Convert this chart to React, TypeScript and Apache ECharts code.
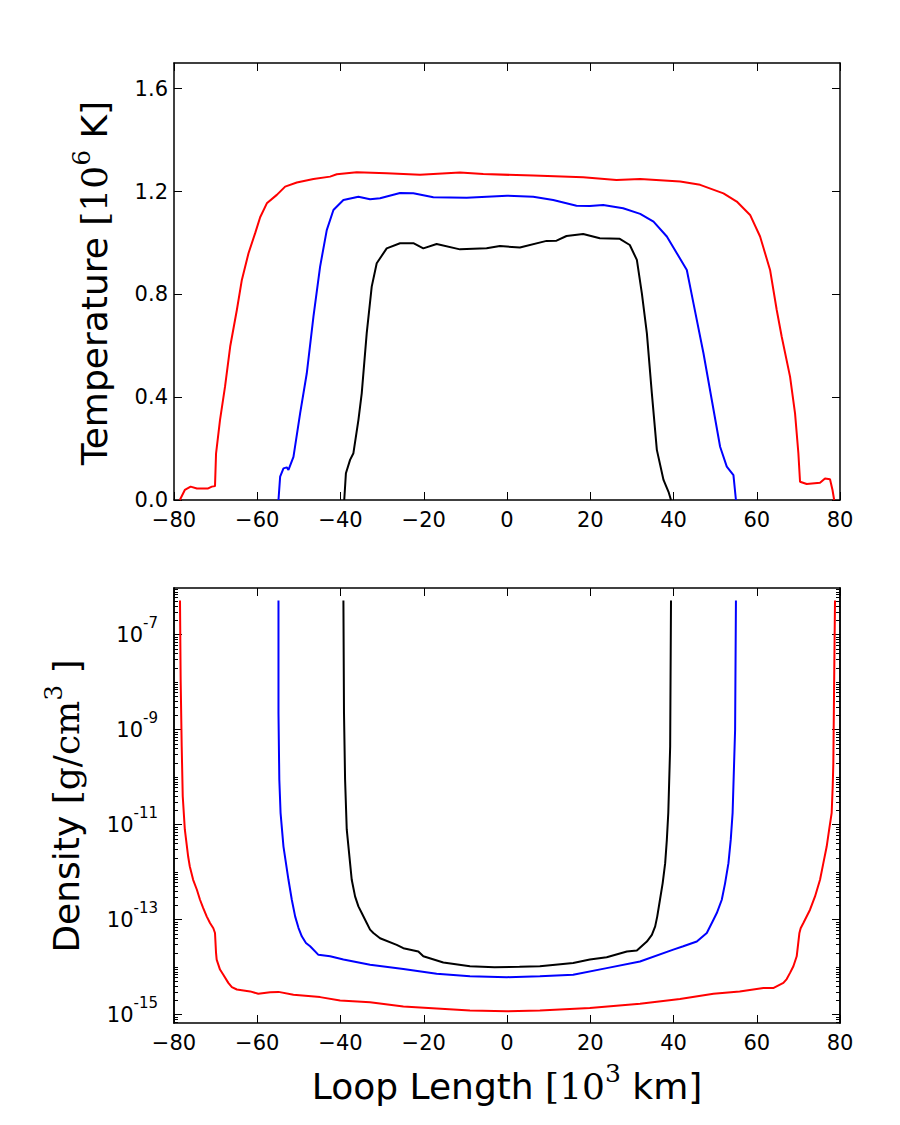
import React, { useEffect, useRef } from "react";
import * as echarts from "echarts";

// ---- Temperature profiles [loop position (10^3 km), T (10^6 K)] ----
const tempRed: [number, number][] = [
  [-78.6, 0], [-77.4, 0.039], [-76.0, 0.052], [-74.5, 0.045], [-71.8, 0.045], [-70.9, 0.052],
  [-70.15, 0.054], [-69.9, 0.18], [-68.95, 0.311], [-67.75, 0.44], [-66.5, 0.597], [-64.9, 0.739],
  [-63.7, 0.856], [-62.1, 0.96], [-60.5, 1.038], [-59.3, 1.1], [-57.7, 1.154], [-55.3, 1.187],
  [-53.3, 1.219], [-50.5, 1.235], [-46.5, 1.249], [-42.5, 1.258], [-40.9, 1.267], [-36.1, 1.275],
  [-28.9, 1.271], [-24.9, 1.268], [-20.9, 1.265], [-11.3, 1.274], [-5.7, 1.268], [6.3, 1.262],
  [18.3, 1.256], [26.3, 1.245], [32, 1.249], [41.6, 1.239], [46.4, 1.226], [52, 1.193],
  [55.2, 1.161], [58.4, 1.109], [60.8, 1.025], [63.2, 0.895], [64.8, 0.739], [66, 0.635],
  [68, 0.48], [69.2, 0.337], [70, 0.182], [70.4, 0.071], [72, 0.062], [75.2, 0.067],
  [76.4, 0.084], [77.6, 0.081], [78.2, 0.039], [78.6, 0],
];

const tempBlue: [number, number][] = [
  [-54.9, 0], [-54.5, 0.091], [-53.7, 0.123], [-52.9, 0.127], [-52.5, 0.117], [-51.3, 0.168],
  [-49.7, 0.337], [-48.1, 0.493], [-46.5, 0.713], [-44.9, 0.908], [-43.3, 1.05], [-41.7, 1.128],
  [-39.3, 1.167], [-35.7, 1.18], [-32.9, 1.17], [-30.5, 1.174], [-25.7, 1.194], [-22.5, 1.193],
  [-17.7, 1.178], [-9.7, 1.176], [0, 1.184], [6.3, 1.18], [11.1, 1.167], [16.7, 1.145],
  [19.9, 1.144], [23.1, 1.148], [27.9, 1.135], [32, 1.113], [35.2, 1.083], [38.4, 1.025],
  [40.8, 0.96], [43.2, 0.895], [44.8, 0.765], [47.2, 0.571], [49.2, 0.389], [51.2, 0.207],
  [52.8, 0.13], [54.4, 0.097], [55.0, 0],
];

const tempBlack: [number, number][] = [
  [-39.1, 0], [-38.7, 0.104], [-37.7, 0.156], [-36.9, 0.182], [-35.7, 0.311], [-34.9, 0.415],
  [-33.7, 0.649], [-32.5, 0.83], [-31.3, 0.921], [-28.9, 0.979], [-25.7, 0.999], [-22.5, 0.999],
  [-20.1, 0.979], [-16.9, 0.996], [-11.3, 0.975], [-4.9, 0.979], [-1.7, 0.988], [3.1, 0.982],
  [9.5, 1.008], [11.9, 1.009], [14.3, 1.027], [18.3, 1.035], [22.3, 1.018], [27.1, 1.016],
  [29.5, 0.992], [31.2, 0.934], [32.4, 0.804], [33.6, 0.649], [34.8, 0.415], [36, 0.195],
  [37.6, 0.078], [38.8, 0.032], [39.4, 0],
];

// ---- Density profiles [loop position (10^3 km), log10 density (g/cm^3)] ----
const densRedLog: [number, number][] = [
  [-78.56, -6.28], [-78.4, -7.95], [-78.15, -9.35], [-77.9, -10.4], [-77.4, -11.1], [-76.6, -11.67],
  [-76.2, -11.88], [-75.4, -12.16], [-74.5, -12.37], [-73.75, -12.58], [-73.0, -12.75],
  [-72.15, -12.93], [-71.35, -13.07], [-70.55, -13.18], [-70.15, -13.28], [-69.9, -13.7],
  [-69.75, -13.84], [-68.95, -14.05], [-68.15, -14.16], [-66.95, -14.33], [-66.1, -14.42],
  [-64.9, -14.47], [-61.7, -14.51], [-59.75, -14.56], [-56.9, -14.53], [-54.9, -14.52],
  [-51.3, -14.58], [-44.9, -14.63], [-40.1, -14.7], [-32.9, -14.74], [-24.9, -14.83],
  [-16.9, -14.87], [-8.9, -14.91], [0, -14.93], [7.9, -14.91], [19.9, -14.86], [31.95, -14.77],
  [41.55, -14.67], [49.6, -14.56], [55.9, -14.51], [61.6, -14.44], [63.95, -14.44], [66.4, -14.33],
  [67.2, -14.25], [68, -14.12], [68.8, -13.98], [69.6, -13.77], [70.25, -13.28], [70.55, -13.18],
  [71.2, -13.07], [72.8, -12.79], [74, -12.51], [75.2, -12.16], [76, -11.81], [76.8, -11.46],
  [77.4, -11.1], [78.0, -10.75], [78.25, -10.19], [78.4, -9.7], [78.6, -7.95], [78.8, -6.28],
];

const densBlueLog: [number, number][] = [
  [-54.9, -6.28], [-54.9, -8.65], [-54.7, -10.05], [-54.4, -10.75], [-53.7, -11.46], [-52.5, -12.16],
  [-51.7, -12.58], [-50.9, -12.93], [-50.1, -13.17], [-49.3, -13.35], [-48.3, -13.49],
  [-47.3, -13.56], [-45.3, -13.74], [-42.5, -13.77], [-39.3, -13.84], [-32.9, -13.95],
  [-24.9, -14.04], [-16.9, -14.14], [-8.9, -14.19], [0, -14.21], [7.9, -14.19], [15.9, -14.16],
  [23.95, -14.02], [31.95, -13.88], [39.95, -13.63], [42.35, -13.56], [45.6, -13.46],
  [48, -13.28], [49.6, -13.0], [50.4, -12.86], [51.6, -12.58], [52.4, -12.23], [53.2, -11.81],
  [53.75, -11.32], [54.2, -10.75], [54.8, -9.0], [55.0, -6.28],
];

const densBlackLog: [number, number][] = [
  [-39.3, -6.28], [-39.16, -8.65], [-38.9, -10.05], [-38.5, -11.1], [-37.7, -11.81], [-37.3, -12.16],
  [-36.5, -12.51], [-35.7, -12.72], [-34.9, -12.86], [-33.7, -13.07], [-32.9, -13.21],
  [-32.1, -13.28], [-30.5, -13.39], [-26.5, -13.53], [-24.9, -13.6], [-21.3, -13.67],
  [-20.1, -13.77], [-15.3, -13.9], [-8.9, -13.98], [-3, -14.0], [3, -13.99], [7.9, -13.98],
  [15.9, -13.91], [19.9, -13.84], [23.95, -13.79], [28.8, -13.67], [31.2, -13.65], [33.6, -13.46],
  [34.8, -13.32], [35.6, -13.14], [36.1, -12.93], [36.75, -12.58], [37.4, -12.23], [38, -11.81],
  [38.4, -11.32], [38.75, -10.75], [39.2, -9.35], [39.4, -6.28],
];

// ---- Axis ticks ----
const xTicks = [-80, -60, -40, -20, 0, 20, 40, 60, 80];
const tempTicks = [0, 0.4, 0.8, 1.2, 1.6];
const densMajorExp = [-15, -13, -11, -9, -7];
const densRange: [number, number] = [-15.175, -6.017];

// minor log ticks at k * 10^n inside the density range
const densMinor: number[] = [];
for (let n = -16; n <= -7; n++) {
  for (let k = 1; k <= 9; k++) {
    const v = n + Math.log10(k);
    if (v > densRange[0] && v < densRange[1] && !densMajorExp.includes(v)) densMinor.push(v);
  }
}

const SANS = "DejaVu Sans";
const SERIF = "DejaVu Serif";
const FRAME = { color: "#000", width: 1.5 };
const TICK_FONT = 21;

const fmtX = (v: number) => String(v).replace("-", "\u2212");

function xAxisFor(gridIndex: number, position: "top" | "bottom") {
  return {
    type: "value",
    gridIndex,
    position,
    min: xTicks[0],
    max: xTicks[xTicks.length - 1],
    interval: 20,
    axisLine: { show: true, onZero: false, lineStyle: FRAME },
    axisTick: { show: true, inside: true, length: 8, lineStyle: { color: "#000", width: 1 } },
    axisLabel: {
      show: position === "bottom",
      margin: 9,
      fontSize: TICK_FONT,
      fontFamily: SANS,
      color: "#000",
      formatter: fmtX,
    },
    splitLine: { show: false },
  };
}

function tempYAxis(position: "left" | "right") {
  return {
    type: "value",
    gridIndex: 0,
    position,
    min: 0,
    max: 1.7,
    axisLine: { show: true, onZero: false, lineStyle: FRAME },
    axisTick: {
      show: true,
      inside: true,
      length: 8,
      customValues: tempTicks,
      lineStyle: { color: "#000", width: 1 },
    },
    axisLabel: {
      show: position === "left",
      customValues: tempTicks,
      margin: 6,
      fontSize: TICK_FONT,
      fontFamily: SANS,
      color: "#000",
      formatter: (v: number) => v.toFixed(1),
    },
    splitLine: { show: false },
  };
}

function densYAxis(position: "left" | "right", minor: boolean) {
  return {
    type: "value",
    gridIndex: 1,
    position,
    min: densRange[0],
    max: densRange[1],
    axisLine: { show: true, onZero: false, lineStyle: FRAME },
    axisTick: {
      show: true,
      inside: true,
      length: minor ? 4 : 8,
      customValues: minor ? densMinor : densMajorExp,
      lineStyle: { color: "#000", width: 1 },
    },
    axisLabel: {
      show: position === "left" && !minor,
      customValues: densMajorExp,
      margin: 16,
      color: "#000",
      formatter: (v: number) => `{b|10}{s|${Math.round(v)}}`,
      rich: {
        b: { fontSize: TICK_FONT, fontFamily: SANS, lineHeight: 38, color: "#000" },
        s: { fontSize: 15, fontFamily: SANS, lineHeight: 15, verticalAlign: "top", color: "#000" },
      },
    },
    splitLine: { show: false },
  };
}

function line(name: string, data: [number, number][], color: string, xi: number, yi: number) {
  return {
    name,
    type: "line",
    xAxisIndex: xi,
    yAxisIndex: yi,
    data,
    showSymbol: false,
    symbol: "none",
    clip: true,
    lineStyle: { color, width: 2 },
    emphasis: { disabled: true },
  };
}

const titleRich = {
  a: { fontSize: 36, fontFamily: SANS, lineHeight: 50, fill: "#000", color: "#000" },
  m: { fontSize: 36, fontFamily: SERIF, lineHeight: 50, fill: "#000", color: "#000" },
  s: { fontSize: 25, fontFamily: SERIF, lineHeight: 25, verticalAlign: "top", fill: "#000", color: "#000" },
};

function title(text: string, x: number, y: number, rotated: boolean) {
  return {
    type: "text",
    x,
    y,
    rotation: rotated ? Math.PI / 2 : 0,
    silent: true,
    style: {
      text,
      rich: titleRich,
      align: "center",
      verticalAlign: "middle",
      fill: "#000",
    },
  };
}

export default function App() {
  const ref = useRef<HTMLDivElement>(null);

  useEffect(() => {
    if (!ref.current) return;
    const chart = echarts.init(ref.current, undefined, { renderer: "svg" });
    chart.setOption({
      animation: false,
      backgroundColor: "#fff",
      grid: [
        { left: 174, top: 63, width: 666, height: 437, show: false },
        { left: 174, top: 588, width: 666, height: 435, show: false },
      ],
      xAxis: [
        xAxisFor(0, "bottom"),
        xAxisFor(0, "top"),
        xAxisFor(1, "bottom"),
        xAxisFor(1, "top"),
      ],
      yAxis: [
        tempYAxis("left"),
        tempYAxis("right"),
        densYAxis("left", false),
        densYAxis("left", true),
        densYAxis("right", false),
        densYAxis("right", true),
      ],
      series: [
        line("T red", tempRed, "#ff0000", 0, 0),
        line("T blue", tempBlue, "#0000ff", 0, 0),
        line("T black", tempBlack, "#000000", 0, 0),
        line("rho red", densRedLog, "#ff0000", 2, 2),
        line("rho blue", densBlueLog, "#0000ff", 2, 2),
        line("rho black", densBlackLog, "#000000", 2, 2),
      ],
      graphic: [
        title("{a|Temperature }{m|[10}{s|6}{a| K]}", 94, 283, true),
        title("{a|Density }{m|[g/cm}{s|3}{a| ]}", 66, 806, true),
        title("{a|Loop Length }{m|[10}{s|3}{a| km]}", 507, 1086, false),
      ],
    });
    return () => chart.dispose();
  }, []);

  return (
    <div
      ref={ref}
      style={{ position: "fixed", left: 0, top: 0, width: 900, height: 1125, background: "#fff" }}
    />
  );
}
